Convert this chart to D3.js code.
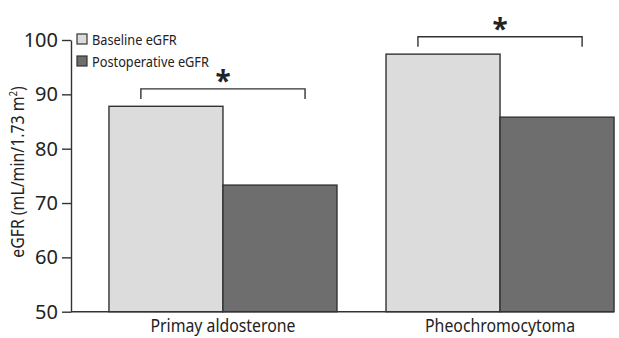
<!DOCTYPE html>
<html>
<head>
<meta charset="utf-8">
<script src="https://cdn.jsdelivr.net/npm/d3@7"></script>
<style>
  body { margin: 0; background: #fff; }
  svg text { font-family: "Noto Sans", "Open Sans", sans-serif; fill: #222; }
</style>
</head>
<body>
<div id="chart"></div>
<script>
// chart data
const groups = ["Primay aldosterone", "Pheochromocytoma"];
const seriesNames = ["Baseline eGFR", "Postoperative eGFR"];
const baseline = [87.8, 97.4];
const postoperative = [73.3, 85.8];
const yTicks = [50, 60, 70, 80, 90, 100];
const significance = ["*", "*"];

const width = 619, height = 338;
const colors = ["#dcdcdc", "#6e6e6e"];
const squeeze = 0.88; // the original font is narrower than Noto Sans

const svg = d3.select("#chart").append("svg")
    .attr("width", width)
    .attr("height", height);

// scales
let x0 = d3.scaleBand()
    .domain(groups)
    .range([71, 652])
    .paddingInner(0.177)
    .paddingOuter(0.137);

let x1 = d3.scaleBand()
    .domain(seriesNames)
    .range([0, x0.bandwidth()]);

let y = d3.scaleLinear()
    .domain([50, 100])
    .range([311.7, 40]);

let values = groups.map((g, i) => [baseline[i], postoperative[i]]);

// bars
let gBars = svg.append("g").selectAll("g")
    .data(groups)
    .enter()
    .append("g")
    .attr("transform", d => "translate(" + x0(d) + ",0)");

gBars.selectAll("rect")
    .data((d, i) => values[i].map((v, j) => ({key: seriesNames[j], value: v, j: j})))
    .enter()
    .append("rect")
    .attr("x", d => x1(d.key))
    .attr("width", x1.bandwidth())
    .attr("y", d => y(d.value))
    .attr("height", d => y(50) - y(d.value))
    .style("fill", d => colors[d.j])
    .style("stroke", "#333")
    .style("stroke-width", 1.4);

// y axis
let yAxis = svg.append("g")
    .attr("transform", "translate(71,0)")
    .call(d3.axisLeft(y).tickValues(yTicks).tickSize(9).tickSizeOuter(0).tickPadding(4));
yAxis.select(".domain").attr("stroke", "#333").attr("stroke-width", 1.4);
yAxis.selectAll(".tick line").attr("stroke", "#333").attr("stroke-width", 1.4);
yAxis.selectAll(".tick text")
    .style("font-size", "20px")
    .attr("fill", "#222");

// x axis line
svg.append("line")
    .attr("x1", 71)
    .attr("x2", x0(groups[1]) + x0.bandwidth())
    .attr("y1", y(50))
    .attr("y2", y(50))
    .attr("stroke", "#333")
    .attr("stroke-width", 1.4);

// group labels
svg.selectAll(".groupLabel")
    .data(groups)
    .enter()
    .append("text")
    .attr("transform", d => "translate(" + (x0(d) + x0.bandwidth() / 2) + ",332) scale(" + squeeze + ",1)")
    .attr("text-anchor", "middle")
    .style("font-size", "18px")
    .text(d => d);

// y axis title
let title = svg.append("text")
    .attr("transform", "translate(24,172) rotate(-90) scale(" + squeeze + ",1)")
    .attr("text-anchor", "middle")
    .style("font-size", "18px");
title.append("tspan").text("eGFR (mL/min/1.73 m");
title.append("tspan").text("2").attr("dy", -7).style("font-size", "11px");
title.append("tspan").text(")").attr("dy", 7);

// significance brackets
groups.forEach((g, i) => {
    let cx = x0(g) + x0.bandwidth() / 2;
    let half = x0.bandwidth() * 0.36;
    let top = y(d3.max(values[i]) + 3.2);
    svg.append("path")
        .attr("d", "M" + (cx - half) + "," + (top + 10) + "V" + top + "H" + (cx + half) + "V" + (top + 10))
        .attr("fill", "none")
        .attr("stroke", "#333")
        .attr("stroke-width", 1.4);
    svg.append("text")
        .attr("x", cx)
        .attr("y", top + 2)
        .attr("text-anchor", "middle")
        .style("font-size", "28px")
        .style("font-weight", "bold")
        .text(significance[i]);
});

// legend
let legend = svg.append("g").selectAll("g")
    .data(seriesNames)
    .enter()
    .append("g")
    .attr("transform", (d, i) => "translate(77," + (34 + i * 22) + ")");
legend.append("rect")
    .attr("width", 10)
    .attr("height", 10)
    .style("fill", (d, i) => colors[i])
    .style("stroke", "#333")
    .style("stroke-width", 1.2);
legend.append("text")
    .attr("transform", "translate(15,5) scale(" + squeeze + ",1)")
    .attr("dominant-baseline", "central")
    .style("font-size", "14.5px")
    .text(d => d);
</script>
</body>
</html>
